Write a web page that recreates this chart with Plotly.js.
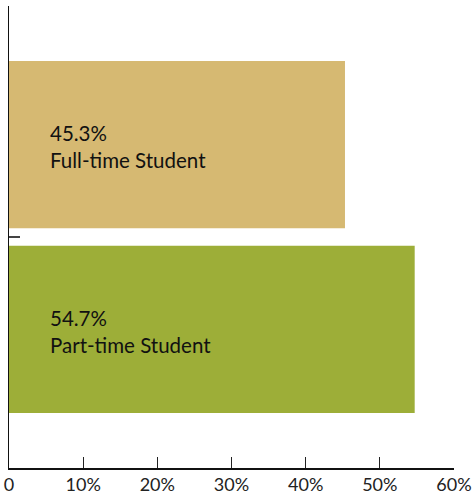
<!DOCTYPE html>
<html>
<head>
<meta charset="utf-8">
<script src="https://cdn.plot.ly/plotly-3.0.1.min.js"></script>
<style>html,body{margin:0;padding:0;background:#fff;}#chart{width:475px;height:496px;}</style>
</head>
<body>
<div id="chart"></div>
<script>
const categories = ["Full-time Student", "Part-time Student"];
const values = [45.3, 54.7];
const barColors = ["#D6B972", "#9DAE38"];
const xTickVals = [0, 10, 20, 30, 40, 50, 60];
const xTickText = ["0", "10%", "20%", "30%", "40%", "50%", "60%"];
const yTickVals = [0.5];

const FONT = "Lato, 'Open Sans', sans-serif";

const trace = {
  type: "bar",
  orientation: "h",
  y: categories,
  x: values,
  width: 0.905,
  marker: {color: barColors, line: {width: 0}},
  hoverinfo: "skip",
  textposition: "none"
};

const annotations = categories.map((c, i) => ({
  xref: "paper", yref: "y",
  x: 0.088, y: c,
  xanchor: "left", yanchor: "middle",
  yshift: -2,
  align: "left",
  showarrow: false,
  text: values[i].toFixed(1) + "%<br>" + c,
  font: {family: FONT, size: 20.5, color: "#111"}
}));

const layout = {
  width: 475, height: 496,
  margin: {l: 9, r: 21, t: 6, b: 28},
  paper_bgcolor: "#fff", plot_bgcolor: "#fff",
  showlegend: false,
  font: {family: FONT, color: "#1a1a1a"},
  xaxis: {
    range: [0, 60],
    tickmode: "array", tickvals: xTickVals, ticktext: xTickText,
    ticks: "inside", ticklen: 11, tickwidth: 1.2, tickcolor: "#222",
    showgrid: false, zeroline: false,
    showline: true, linecolor: "#111", linewidth: 1.5,
    tickfont: {family: FONT, size: 18, color: "#222"},
    fixedrange: true, layer: "below traces"
  },
  yaxis: {
    type: "category",
    range: [1.75, -0.75],
    tickmode: "array", tickvals: yTickVals, ticktext: [""],
    ticks: "inside", ticklen: 11, tickwidth: 1.2, tickcolor: "#444",
    showticklabels: false,
    showgrid: false, zeroline: false,
    showline: true, linecolor: "#111", linewidth: 1.5,
    fixedrange: true, layer: "below traces"
  },
  annotations: annotations
};

Plotly.newPlot("chart", [trace], layout, {displayModeBar: false, staticPlot: true});
</script>
</body>
</html>
